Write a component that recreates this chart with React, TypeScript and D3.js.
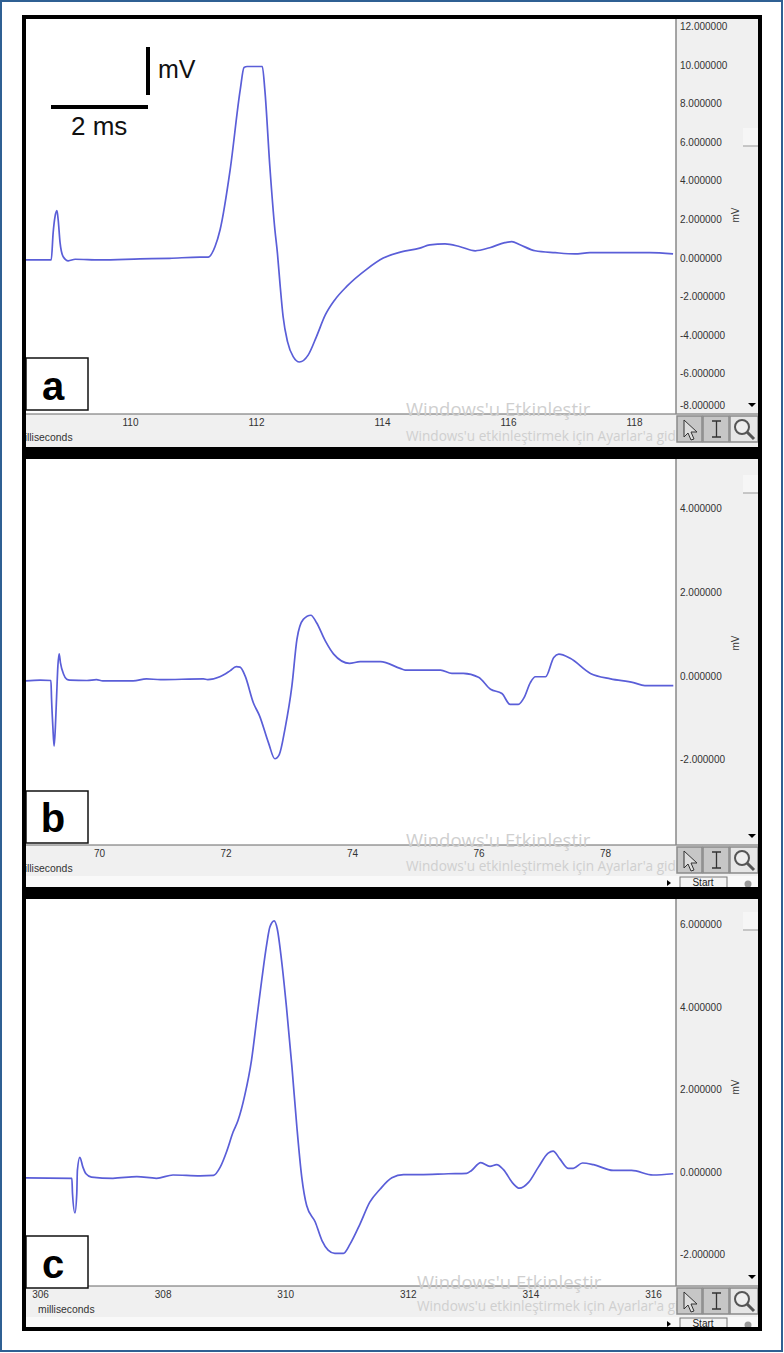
import React, { useEffect, useRef } from "react";
import * as d3 from "d3";

const W = 784;
const H = 1353;

// panel a (ms, mV)
const timesA = [108.33, 108.51, 108.75, 108.78, 108.81, 108.84, 108.86, 108.89, 108.94, 109.02, 109.13, 109.52, 110.16, 110.63, 111.11, 111.24, 111.35, 111.43, 111.59, 111.75, 111.81, 111.86, 112.1, 112.14, 112.22, 112.3, 112.34, 112.38, 112.43, 112.5, 112.59, 112.69, 112.83, 112.96, 113.1, 113.25, 113.44, 113.76, 114.02, 114.29, 114.6, 114.76, 115.0, 115.24, 115.48, 115.71, 115.95, 116.06, 116.19, 116.43, 116.75, 117.06, 117.3, 117.78, 118.25, 118.62];
const voltsA = [-0.08, -0.08, -0.08, 1.32, 2.16, 2.47, 2.0, 0.81, 0.08, -0.13, -0.05, -0.08, -0.03, 0, 0.06, 0.06, 0.61, 1.48, 4.6, 8.75, 9.9, 9.95, 9.95, 8.75, 4.75, 1.48, 0.27, -1.29, -3.02, -4.32, -5.1, -5.38, -5.01, -4.06, -2.94, -2.16, -1.46, -0.56, 0.01, 0.32, 0.53, 0.7, 0.75, 0.6, 0.39, 0.55, 0.81, 0.86, 0.7, 0.39, 0.29, 0.23, 0.29, 0.29, 0.29, 0.23];

// panel b
const timesB = [68.84, 69.07, 69.24, 69.25, 69.27, 69.29, 69.31, 69.33, 69.35, 69.37, 69.39, 69.44, 69.49, 69.54, 69.81, 69.96, 70.06, 70.54, 70.75, 70.97, 71.65, 71.72, 71.91, 72.07, 72.17, 72.23, 72.31, 72.44, 72.54, 72.68, 72.78, 72.85, 72.94, 73.05, 73.13, 73.23, 73.35, 73.44, 73.58, 73.71, 73.96, 74.13, 74.45, 74.76, 74.84, 75.4, 75.58, 75.76, 76.0, 76.19, 76.37, 76.5, 76.63, 76.72, 76.82, 76.9, 77.06, 77.19, 77.27, 77.45, 77.77, 78.09, 78.45, 78.63, 79.08];
const voltsB = [-0.11, -0.09, -0.1, -0.55, -1.19, -1.67, -1.22, -0.47, 0.25, 0.54, 0.33, 0.05, -0.07, -0.09, -0.1, -0.08, -0.11, -0.11, -0.06, -0.08, -0.06, -0.08, -0.01, 0.13, 0.23, 0.22, 0.01, -0.63, -0.95, -1.59, -1.97, -1.87, -1.26, -0.23, 0.89, 1.36, 1.46, 1.28, 0.84, 0.53, 0.31, 0.35, 0.35, 0.19, 0.15, 0.15, 0.07, 0.07, -0.02, -0.31, -0.41, -0.67, -0.67, -0.51, -0.15, -0.01, -0.01, 0.45, 0.53, 0.43, 0.07, -0.06, -0.15, -0.22, -0.22];

// panel c
const timesC = [305.77, 306.52, 306.53, 306.57, 306.6, 306.61, 306.65, 306.7, 306.75, 306.84, 307.19, 307.58, 307.9, 308.17, 308.61, 308.83, 308.94, 309.05, 309.15, 309.23, 309.34, 309.45, 309.54, 309.62, 309.7, 309.75, 309.82, 309.87, 309.94, 310.02, 310.11, 310.19, 310.27, 310.35, 310.49, 310.6, 310.7, 310.81, 310.95, 311.06, 311.22, 311.38, 311.55, 311.74, 311.93, 312.2, 312.66, 312.96, 313.04, 313.19, 313.34, 313.45, 313.56, 313.72, 313.82, 313.97, 314.13, 314.29, 314.37, 314.48, 314.62, 314.7, 314.85, 315.03, 315.35, 315.65, 316.0, 316.33];
const voltsC = [-0.13, -0.14, -0.51, -0.98, -0.51, 0.05, 0.37, 0.13, -0.03, -0.11, -0.14, -0.1, -0.14, -0.06, -0.08, -0.07, 0.13, 0.53, 0.98, 1.26, 1.87, 2.72, 3.77, 4.7, 5.55, 5.95, 6.1, 5.91, 5.15, 4.02, 2.56, 1.11, -0.11, -0.8, -1.2, -1.65, -1.88, -1.96, -1.96, -1.73, -1.25, -0.72, -0.4, -0.13, -0.05, -0.05, -0.03, -0.02, 0.05, 0.24, 0.15, 0.19, 0.07, -0.27, -0.38, -0.24, 0.13, 0.47, 0.52, 0.33, 0.1, 0.1, 0.23, 0.19, 0.05, 0.05, -0.06, -0.03];

const xTicksA = [110, 112, 114, 116, 118];
const xTicksB = [70, 72, 74, 76, 78];
const xTicksC = [306, 308, 310, 312, 314, 316];
const yTicksA = [12, 10, 8, 6, 4, 2, 0, -2, -4, -6, -8];
const yTicksB = [4, 2, 0, -2];
const yTicksC = [6, 4, 2, 0, -2];

const panels = [
  {
    letter: "a", t: timesA, v: voltsA, xTicks: xTicksA, yTicks: yTicksA,
    xr: [130, 634], yr: [27, 412.5], top: 19, bottom: 414, end: 447,
    msX: 16, msY: 441, tickY: 425, mvY: 215, letterBox: 358, letterBase: 400,
    thumb: 128, wmX: 406, wmTop: 416, wmSub: 441, start: false,
  },
  {
    letter: "b", t: timesB, v: voltsB, xTicks: xTicksB, yTicks: yTicksB,
    xr: [99, 605], yr: [509, 760], top: 459, bottom: 845, end: 887,
    msX: 16, msY: 872, tickY: 856, mvY: 643, letterBox: 791, letterBase: 832,
    thumb: 475, wmX: 406, wmTop: 847, wmSub: 871, start: true,
  },
  {
    letter: "c", t: timesC, v: voltsC, xTicks: xTicksC, yTicks: yTicksC,
    xr: [40, 653], yr: [925, 1255], top: 899, bottom: 1286, end: 1328,
    msX: 38, msY: 1313, tickY: 1297, mvY: 1087, letterBox: 1236, letterBase: 1278,
    thumb: 912, wmX: 417, wmTop: 1289, wmSub: 1311, start: true,
  },
];

const sans = "'Liberation Sans', Arial, sans-serif";

const App = () => {
  const ref = useRef<SVGSVGElement>(null);

  useEffect(() => {
    const svg = d3.select(ref.current);
    svg.selectAll("*").remove();
    svg.attr("font-family", sans);

    svg.append("rect").attr("width", W).attr("height", H).attr("fill", "#fff");

    panels.forEach((p) => {
      const x = d3.scaleLinear()
        .domain([p.xTicks[0], p.xTicks[p.xTicks.length - 1]])
        .range(p.xr);
      const y = d3.scaleLinear()
        .domain([p.yTicks[0], p.yTicks[p.yTicks.length - 1]])
        .range(p.yr);

      const g = svg.append("g");

      // side + bottom strips
      g.append("rect").attr("x", 676).attr("y", p.top).attr("width", 86).attr("height", p.bottom - p.top).attr("fill", "#f0f0f0");
      g.append("rect").attr("x", 22).attr("y", p.bottom).attr("width", 740).attr("height", p.end - p.bottom).attr("fill", "#f0f0f0");
      if (p.start) {
        g.append("rect").attr("x", 22).attr("y", p.end - 11).attr("width", 740).attr("height", 11).attr("fill", "#f9f9f9");
      }
      g.append("line").attr("x1", 26).attr("x2", 758).attr("y1", p.bottom).attr("y2", p.bottom).attr("stroke", "#666");
      g.append("line").attr("x1", 676).attr("x2", 676).attr("y1", p.top).attr("y2", p.bottom).attr("stroke", "#888").attr("stroke-width", 1.5);

      // trace
      const line = d3.line<number>()
        .x((d) => x(d))
        .y((d, i) => y(p.v[i]))
        .curve(d3.curveMonotoneX);
      g.append("path").attr("d", line(p.t)).attr("fill", "none")
        .attr("stroke", "#5a5ed8").attr("stroke-width", 1.7);

      // x axis
      const xAxis = d3.axisBottom(x).tickValues(p.xTicks).tickSize(0).tickFormat((d) => `${d}`);
      const gx = g.append("g").attr("transform", `translate(0,${p.tickY - 9})`).call(xAxis);
      gx.select(".domain").remove();
      gx.selectAll("text").attr("font-size", 10).attr("font-family", sans).attr("fill", "#333");

      // y axis, labels sit inside the grey strip
      const yAxis = d3.axisRight(y).tickValues(p.yTicks).tickSize(0).tickFormat((d) => (d as number).toFixed(6));
      const gy = g.append("g").attr("transform", "translate(677,0)").call(yAxis);
      gy.select(".domain").remove();
      gy.selectAll("text").attr("font-size", 10).attr("font-family", sans).attr("fill", "#333").attr("x", 3);
      // the lowest label gets pushed up so it stays on screen
      gy.selectAll<SVGGElement, number>(".tick")
        .attr("transform", (d) => `translate(0,${Math.min(y(d), p.bottom - 8.5)})`);

      g.append("text").attr("transform", `translate(739,${p.mvY}) rotate(-90)`)
        .attr("text-anchor", "middle").attr("font-size", 10).attr("fill", "#333").text("mV");

      g.append("text").attr("x", p.msX).attr("y", p.msY).attr("font-size", 10.4).attr("fill", "#333").text("milliseconds");

      // scrollbar bits
      g.append("rect").attr("x", 743).attr("y", p.thumb).attr("width", 15).attr("height", 18).attr("fill", "#f6f6f6");
      g.append("line").attr("x1", 743).attr("x2", 758).attr("y1", p.thumb + 18).attr("y2", p.thumb + 18).attr("stroke", "#999");
      g.append("path").attr("d", `M748,${p.bottom - 11}h8l-4,4z`).attr("fill", "#000");

      // watermark
      g.append("text").attr("x", p.wmX).attr("y", p.wmTop).attr("font-size", 18.5).attr("font-family", "'Open Sans', sans-serif").attr("fill", "#cfcfcf").text("Windows'u Etkinleştir");
      g.append("text").attr("x", p.wmX).attr("y", p.wmSub).attr("font-size", 13.6).attr("font-family", "'Open Sans', sans-serif").attr("fill", "#cfcfcf").text("Windows'u etkinleştirmek için Ayarlar'a gidin.");

      // toolbar buttons
      const by = p.bottom + 2;
      [[677, 25, "#c6c6c6"], [703, 26, "#c6c6c6"], [730, 28, "#e6e6e6"]].forEach(([bx, bw, fill]) => {
        g.append("rect").attr("x", bx as number).attr("y", by).attr("width", bw as number).attr("height", 26)
          .attr("fill", fill as string).attr("stroke", "#8a8a8a").attr("stroke-width", 1.5);
      });
      g.append("path").attr("d", `M684,${by + 4}v17l4,-4l3,7l3,-1l-3,-7h6z`).attr("fill", "#ddd").attr("stroke", "#333");
      g.append("path").attr("d", `M712,${by + 5}h9M716.5,${by + 5}v16M712,${by + 21}h9`).attr("fill", "none").attr("stroke", "#333").attr("stroke-width", 1.3);
      g.append("circle").attr("cx", 742).attr("cy", by + 11).attr("r", 7).attr("fill", "#eee").attr("stroke", "#555").attr("stroke-width", 2);
      g.append("path").attr("d", `M747,${by + 16}l7,7`).attr("stroke", "#555").attr("stroke-width", 3);

      if (p.start) {
        g.append("rect").attr("x", 680).attr("y", p.end - 10).attr("width", 47).attr("height", 12).attr("fill", "#f4f4f4").attr("stroke", "#777");
        g.append("text").attr("x", 703).attr("y", p.end - 1).attr("text-anchor", "middle").attr("font-size", 10).attr("fill", "#222").text("Start");
        g.append("path").attr("d", `M667,${p.end - 7}l4,3l-4,3z`).attr("fill", "#000");
        g.append("circle").attr("cx", 748).attr("cy", p.end - 3).attr("r", 3.5).attr("fill", "#999");
      }

      // letter box
      g.append("rect").attr("x", 26).attr("y", p.letterBox).attr("width", 62).attr("height", 52)
        .attr("fill", "#fff").attr("stroke", "#111").attr("stroke-width", 1.5);
      g.append("text").attr("x", 53).attr("y", p.letterBase).attr("text-anchor", "middle")
        .attr("font-size", 40).attr("font-weight", "bold").attr("fill", "#000").text(p.letter);
    });

    // white margin hides what runs off the left of the frame, then the outer border
    svg.append("rect").attr("x", 0).attr("y", 0).attr("width", 23).attr("height", H).attr("fill", "#fff");
    svg.append("rect").attr("x", 1).attr("y", 1).attr("width", W - 3).attr("height", H - 3)
      .attr("fill", "none").attr("stroke", "#2f6093").attr("stroke-width", 2);

    // heavy black frame and separators go on top
    svg.append("rect").attr("x", 24).attr("y", 17).attr("width", 736).attr("height", 1312)
      .attr("fill", "none").attr("stroke", "#000").attr("stroke-width", 4);
    svg.append("rect").attr("x", 22).attr("y", 447).attr("width", 740).attr("height", 12).attr("fill", "#000");
    svg.append("rect").attr("x", 22).attr("y", 887).attr("width", 740).attr("height", 12).attr("fill", "#000");

    // hand drawn scale bar in panel a
    svg.append("rect").attr("x", 146).attr("y", 47).attr("width", 4).attr("height", 48).attr("fill", "#000");
    svg.append("rect").attr("x", 51).attr("y", 105).attr("width", 97).attr("height", 4).attr("fill", "#000");
    svg.append("text").attr("x", 158).attr("y", 78).attr("font-size", 25).attr("fill", "#111").text("mV");
    svg.append("text").attr("x", 71).attr("y", 135).attr("font-size", 26).attr("fill", "#111").text("2 ms");
  }, []);

  return <svg ref={ref} width={W} height={H} style={{ position: "absolute", left: 0, top: 0, display: "block" }} />;
};

export default App;
